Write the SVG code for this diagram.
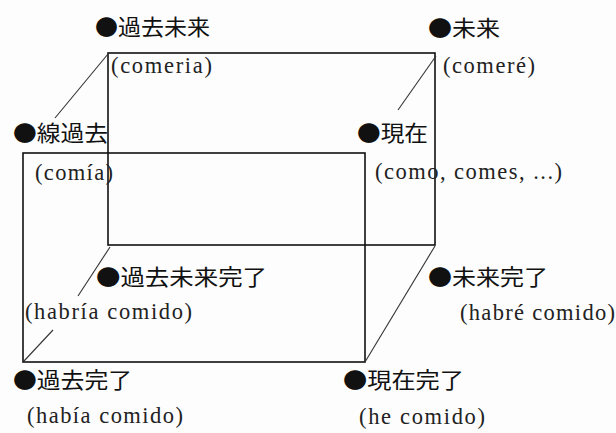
<svg xmlns="http://www.w3.org/2000/svg" width="616" height="433" viewBox="0 0 616 433">
<style>
.bg{fill:#fdfdfd}
.edge{fill:none;stroke:#111;stroke-width:1.6}
.diag{fill:none;stroke:#333;stroke-width:1.1}
.jp{font-family:"Noto Sans CJK JP","Noto Sans CJK SC",sans-serif;font-size:22px;fill:#111}
.ex{font-family:"Liberation Serif",serif;font-size:22.5px;fill:#222}
</style>
<rect class="bg" x="0" y="0" width="616" height="433"/>
<g id="connectors">
  <rect class="edge" x="108" y="53" width="327" height="192"/>
  <rect class="edge" x="23" y="153" width="342" height="209"/>
  <line class="diag" x1="108" y1="54" x2="55" y2="118"/>
  <line class="diag" x1="436" y1="56" x2="398" y2="110"/>
  <line class="diag" x1="110" y1="247" x2="78" y2="296"/>
  <line class="diag" x1="53" y1="330" x2="24" y2="361"/>
  <line class="diag" x1="435" y1="246" x2="365" y2="362"/>
</g>
<g id="futuro-pasado">
  <text class="jp" x="95" y="35" textLength="115" lengthAdjust="spacingAndGlyphs">●過去未来</text>
  <text class="ex" x="111" y="73" textLength="101" lengthAdjust="spacing">(comeria)</text>
</g>
<g id="futuro">
  <text class="jp" x="428" y="36" textLength="72" lengthAdjust="spacingAndGlyphs">●未来</text>
  <text class="ex" x="443" y="73" textLength="92" lengthAdjust="spacing">(comeré)</text>
</g>
<g id="preterito-imperfecto">
  <text class="jp" x="13" y="141" textLength="95" lengthAdjust="spacingAndGlyphs">●線過去</text>
  <text class="ex" x="35" y="180" textLength="78" lengthAdjust="spacing">(comía)</text>
</g>
<g id="presente">
  <text class="jp" x="357" y="141" textLength="71" lengthAdjust="spacingAndGlyphs">●現在</text>
  <text class="ex" x="375" y="179" textLength="187" lengthAdjust="spacing">(como, comes, ...)</text>
</g>
<g id="condicional-perfecto">
  <text class="jp" x="96" y="285" textLength="171" lengthAdjust="spacingAndGlyphs">●過去未来完了</text>
  <text class="ex" x="25" y="319" textLength="167" lengthAdjust="spacing">(habría comido)</text>
</g>
<g id="futuro-perfecto">
  <text class="jp" x="428" y="285" textLength="120" lengthAdjust="spacingAndGlyphs">●未来完了</text>
  <text class="ex" x="460" y="320" textLength="155" lengthAdjust="spacing">(habré comido)</text>
</g>
<g id="pluscuamperfecto">
  <text class="jp" x="13" y="388" textLength="119" lengthAdjust="spacingAndGlyphs">●過去完了</text>
  <text class="ex" x="27" y="423" textLength="156" lengthAdjust="spacing">(había comido)</text>
</g>
<g id="preterito-perfecto">
  <text class="jp" x="343" y="388" textLength="121" lengthAdjust="spacingAndGlyphs">●現在完了</text>
  <text class="ex" x="359" y="424" textLength="126" lengthAdjust="spacing">(he comido)</text>
</g>
</svg>
